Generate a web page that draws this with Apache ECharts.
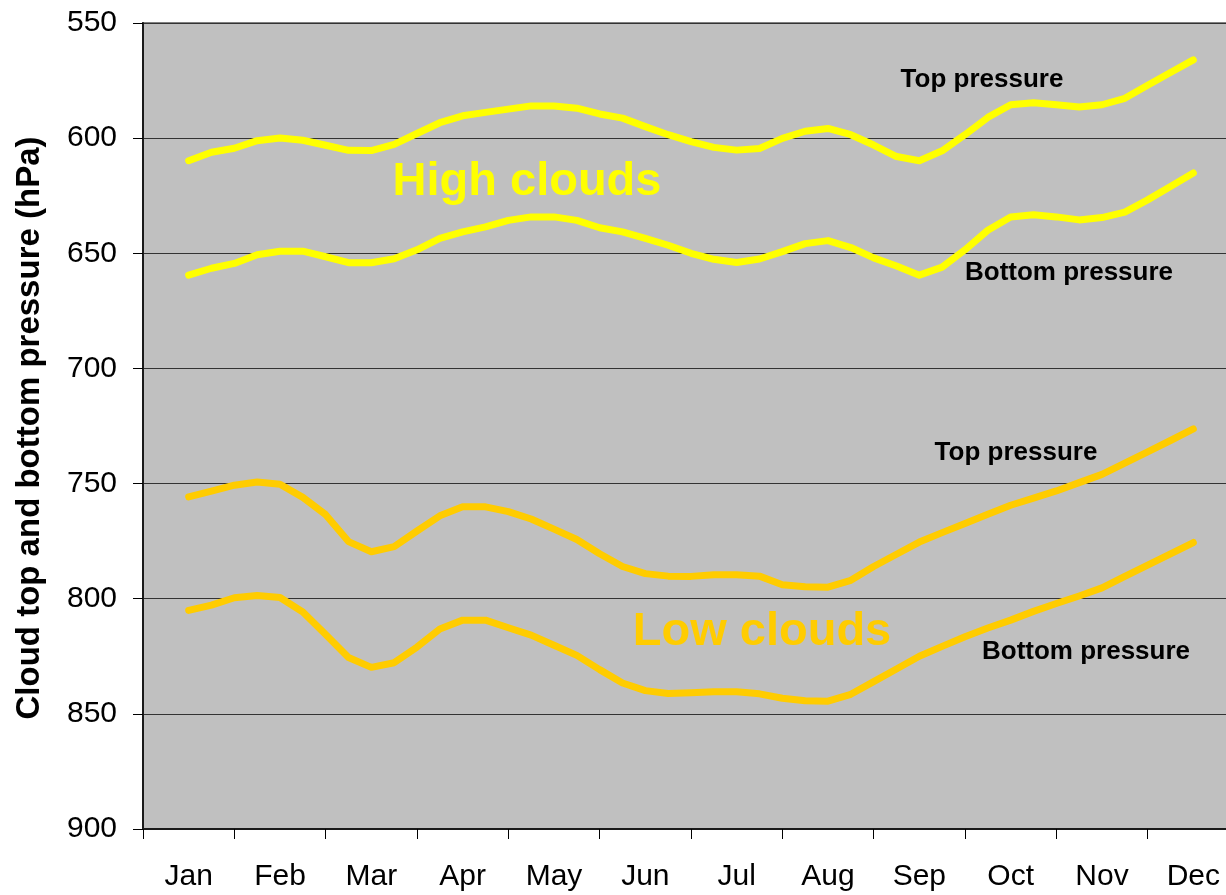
<!DOCTYPE html>
<html>
<head>
<meta charset="utf-8">
<title>Cloud top and bottom pressure</title>
<script src="https://cdn.jsdelivr.net/npm/echarts@6/dist/echarts.min.js"></script>
<style>
  html, body { margin: 0; padding: 0; background: #ffffff; }
  #chart { width: 1226px; height: 895px; }
</style>
</head>
<body>
<div id="chart"></div>
<script>
// Month names along the bottom axis
const months = ['Jan', 'Feb', 'Mar', 'Apr', 'May', 'Jun', 'Jul', 'Aug', 'Sep', 'Oct', 'Nov', 'Dec'];

// Pressure axis ticks (hPa), drawn top to bottom
const pressureTicks = [550, 600, 650, 700, 750, 800, 850, 900];

// Sample times in months (0 = start of Jan), quarter-month steps from mid-Jan to mid-Dec
const samplePos = [
  0.5, 0.75, 1.0, 1.25, 1.5, 1.75, 2.0, 2.25, 2.5, 2.75,
  3.0, 3.25, 3.5, 3.75, 4.0, 4.25, 4.5, 4.75, 5.0, 5.25,
  5.5, 5.75, 6.0, 6.25, 6.5, 6.75, 7.0, 7.25, 7.5, 7.75,
  8.0, 8.25, 8.5, 8.75, 9.0, 9.25, 9.5, 9.75, 10.0, 10.25,
  10.5, 10.75, 11.0, 11.25, 11.5
];

// High clouds: top pressure (hPa)
const highTop = [
  609.8, 606.1, 604.4, 601.1, 599.9, 600.9, 603.1, 605.3, 605.4, 602.7,
  598.0, 593.3, 590.3, 588.8, 587.4, 586.0, 586.0, 587.0, 589.5, 591.3,
  595.0, 598.5, 601.5, 604.0, 605.2, 604.5, 600.1, 597.0, 595.8, 598.5,
  603.0, 608.0, 609.8, 605.5, 598.5, 591.0, 585.5, 584.6, 585.5, 586.5,
  585.5, 582.7, 577.0, 571.5, 566.0
];

// High clouds: bottom pressure (hPa)
const highBottom = [
  659.5, 656.5, 654.4, 650.6, 649.1, 649.1, 651.5, 654.1, 654.1, 652.4,
  648.5, 643.5, 640.7, 638.5, 635.7, 634.2, 634.2, 635.7, 638.9, 640.7,
  643.5, 646.5, 650.0, 652.6, 654.0, 652.5, 649.3, 645.8, 644.5, 647.5,
  652.0, 655.5, 659.5, 656.0, 648.5, 640.0, 634.2, 633.3, 634.2, 635.5,
  634.5, 632.1, 626.8, 621.0, 615.1
];

// Low clouds: top pressure (hPa)
const lowTop = [
  755.8, 753.3, 750.7, 749.3, 750.3, 756.0, 763.5, 775.2, 779.6, 777.4,
  770.6, 764.0, 760.1, 760.1, 762.2, 765.4, 769.8, 774.3, 780.5, 786.0,
  789.1, 790.2, 790.3, 789.6, 789.6, 790.2, 793.9, 794.8, 795.0, 792.0,
  786.0, 780.7, 775.4, 771.3, 767.3, 763.3, 759.4, 756.3, 753.2, 749.6,
  746.0, 741.1, 736.2, 731.3, 726.3
];

// Low clouds: bottom pressure (hPa)
const lowBottom = [
  805.1, 802.8, 799.6, 798.6, 799.5, 805.8, 815.5, 825.5, 829.8, 827.8,
  821.0, 813.2, 809.3, 809.3, 812.6, 815.8, 820.2, 824.6, 830.8, 836.6,
  839.9, 841.2, 840.8, 840.4, 840.4, 841.3, 843.2, 844.3, 844.5, 841.5,
  836.0, 830.5, 825.0, 820.7, 816.5, 812.7, 809.3, 805.5, 802.1, 798.8,
  795.3, 790.3, 785.4, 780.5, 775.6
];

const FONT = "'Liberation Sans', Arial, Helvetica, sans-serif";
const HIGH_COLOR = '#FFFF00';
const LOW_COLOR = '#FFCC00';

function pairs(values) {
  return samplePos.map((m, i) => [m, values[i]]);
}

function curve(name, values, color) {
  return {
    name: name,
    type: 'line',
    xAxisIndex: 1,
    yAxisIndex: 0,
    data: pairs(values),
    showSymbol: false,
    symbol: 'none',
    smooth: false,
    lineStyle: { color: color, width: 7, cap: 'round', join: 'round' },
    silent: true
  };
}

function note(text, x, y, size, color) {
  return {
    type: 'text',
    x: x,
    y: y,
    z: 100,
    style: {
      text: text,
      fill: color,
      font: 'bold ' + size + 'px ' + FONT,
      align: 'center',
      verticalAlign: 'middle'
    }
  };
}

const chart = echarts.init(document.getElementById('chart'), null, { renderer: 'canvas' });

chart.setOption({
  animation: false,
  backgroundColor: '#ffffff',
  grid: {
    left: 143,
    top: 23,
    right: -13,
    bottom: 66,
    outerBoundsMode: 'none',
    containLabel: false,
    show: true,
    backgroundColor: '#C0C0C0',
    borderColor: '#808080',
    borderWidth: 2
  },
  xAxis: [
    {
      type: 'category',
      data: months,
      boundaryGap: true,
      axisLine: { show: true, lineStyle: { color: '#1a1a1a', width: 2 } },
      axisTick: { show: true, inside: false, length: 10, lineStyle: { color: '#000000', width: 1 } },
      axisLabel: { color: '#000000', fontSize: 30, fontFamily: FONT, margin: 33 },
      splitLine: { show: false }
    },
    {
      type: 'value',
      min: 0,
      max: 12,
      show: false
    }
  ],
  yAxis: {
    type: 'value',
    inverse: true,
    min: pressureTicks[0],
    max: pressureTicks[pressureTicks.length - 1],
    interval: 50,
    axisLine: { show: true, lineStyle: { color: '#1a1a1a', width: 2 } },
    axisTick: { show: true, inside: false, length: 10, lineStyle: { color: '#000000', width: 1 } },
    axisLabel: { color: '#000000', fontSize: 30, fontFamily: FONT, margin: 26 },
    splitLine: { show: true, lineStyle: { color: '#333333', width: 1 } }
  },
  series: [
    curve('High clouds top pressure', highTop, HIGH_COLOR),
    curve('High clouds bottom pressure', highBottom, HIGH_COLOR),
    curve('Low clouds top pressure', lowTop, LOW_COLOR),
    curve('Low clouds bottom pressure', lowBottom, LOW_COLOR)
  ],
  graphic: [
    {
      type: 'text',
      x: 30,
      y: 428,
      rotation: Math.PI / 2,
      style: {
        text: 'Cloud top and bottom pressure (hPa)',
        fill: '#000000',
        font: 'bold 33px ' + FONT,
        align: 'center',
        verticalAlign: 'middle'
      }
    },
    note('High clouds', 527, 182, 47, HIGH_COLOR),
    note('Low clouds', 762, 632, 47, LOW_COLOR),
    note('Top pressure', 982, 80, 26, '#000000'),
    note('Bottom pressure', 1069, 273, 26, '#000000'),
    note('Top pressure', 1016, 453, 26, '#000000'),
    note('Bottom pressure', 1086, 652, 26, '#000000')
  ]
});
</script>
</body>
</html>
